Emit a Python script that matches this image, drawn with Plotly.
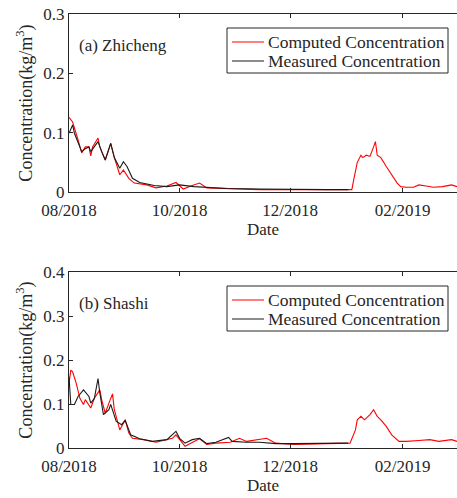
import plotly.graph_objects as go

# ---------------- data ----------------
tick_dates = ["2018-08-01", "2018-10-01", "2018-12-01", "2019-02-01"]
tick_labels = ["08/2018", "10/2018", "12/2018", "02/2019"]
series_names = ["Computed Concentration", "Measured Concentration"]
panel_titles = ["(a) Zhicheng", "(b) Shashi"]

# (a) Zhicheng
zc_comp_dates = ["2018-08-01", "2018-08-03", "2018-08-06", "2018-08-08", "2018-08-10", "2018-08-12",
                 "2018-08-13", "2018-08-14", "2018-08-17", "2018-08-18", "2018-08-21", "2018-08-24",
                 "2018-08-26", "2018-08-29", "2018-08-31", "2018-09-03", "2018-09-06", "2018-09-13",
                 "2018-09-18", "2018-09-24", "2018-09-29", "2018-10-03", "2018-10-08", "2018-10-12",
                 "2018-10-16", "2018-10-27", "2018-11-05", "2018-11-14", "2018-12-03", "2018-12-21",
                 "2019-01-04", "2019-01-05", "2019-01-07", "2019-01-09", "2019-01-10", "2019-01-12",
                 "2019-01-14", "2019-01-16", "2019-01-17", "2019-01-18", "2019-01-20", "2019-01-23",
                 "2019-01-26", "2019-01-29", "2019-01-31", "2019-02-03", "2019-02-07", "2019-02-10",
                 "2019-02-14", "2019-02-18", "2019-02-23", "2019-02-28", "2019-03-03"]
zc_comp = [0.126, 0.118, 0.088, 0.066, 0.076, 0.076,
           0.061, 0.076, 0.091, 0.076, 0.054, 0.082,
           0.058, 0.029, 0.037, 0.023, 0.015, 0.012,
           0.007, 0.010, 0.016, 0.005, 0.011, 0.015,
           0.007, 0.006, 0.004, 0.004, 0.004, 0.004,
           0.004, 0.020, 0.050, 0.062, 0.058, 0.062,
           0.060, 0.076, 0.085, 0.062, 0.058, 0.043,
           0.029, 0.015, 0.009, 0.008, 0.008, 0.012,
           0.010, 0.008, 0.009, 0.012, 0.009]

zc_meas_dates = ["2018-08-01", "2018-08-03", "2018-08-04", "2018-08-06", "2018-08-08", "2018-08-10",
                 "2018-08-12", "2018-08-13", "2018-08-15", "2018-08-17", "2018-08-19", "2018-08-21",
                 "2018-08-24", "2018-08-26", "2018-08-29", "2018-08-31", "2018-09-02", "2018-09-05",
                 "2018-09-09", "2018-09-17", "2018-09-24", "2018-10-01", "2018-10-09", "2018-10-18",
                 "2018-10-27", "2018-11-14", "2018-12-03", "2018-12-21", "2019-01-02"]
zc_meas = [0.099, 0.113, 0.099, 0.082, 0.068, 0.073,
           0.076, 0.068, 0.076, 0.085, 0.068, 0.054,
           0.082, 0.058, 0.040, 0.051, 0.043, 0.023,
           0.016, 0.011, 0.009, 0.012, 0.009, 0.007,
           0.006, 0.005, 0.004, 0.004, 0.004]

# (b) Shashi
ss_comp_dates = ["2018-08-01", "2018-08-02", "2018-08-03", "2018-08-05", "2018-08-07", "2018-08-09",
                 "2018-08-10", "2018-08-12", "2018-08-13", "2018-08-15", "2018-08-18", "2018-08-19",
                 "2018-08-21", "2018-08-23", "2018-08-25", "2018-08-26", "2018-08-29", "2018-09-01",
                 "2018-09-03", "2018-09-05", "2018-09-11", "2018-09-18", "2018-09-24", "2018-09-27",
                 "2018-09-29", "2018-10-01", "2018-10-04", "2018-10-09", "2018-10-12", "2018-10-16",
                 "2018-10-21", "2018-10-29", "2018-11-03", "2018-11-07", "2018-11-14", "2018-11-18",
                 "2018-11-23", "2018-12-03", "2018-12-21", "2019-01-03", "2019-01-06", "2019-01-07",
                 "2019-01-09", "2019-01-11", "2019-01-14", "2019-01-16", "2019-01-18", "2019-01-20",
                 "2019-01-23", "2019-01-26", "2019-01-30", "2019-02-03", "2019-02-10", "2019-02-16",
                 "2019-02-21", "2019-02-28", "2019-03-03"]
ss_comp = [0.147, 0.177, 0.173, 0.147, 0.113, 0.099,
           0.110, 0.099, 0.091, 0.113, 0.132, 0.110,
           0.079, 0.102, 0.123, 0.087, 0.041, 0.064,
           0.034, 0.022, 0.019, 0.013, 0.019, 0.022,
           0.030, 0.019, 0.004, 0.015, 0.021, 0.008,
           0.011, 0.013, 0.022, 0.015, 0.019, 0.022,
           0.011, 0.008, 0.010, 0.011, 0.041, 0.064,
           0.072, 0.064, 0.076, 0.087, 0.072, 0.064,
           0.049, 0.030, 0.015, 0.015, 0.017, 0.019,
           0.015, 0.019, 0.015]

ss_meas_dates = ["2018-08-01", "2018-08-02", "2018-08-04", "2018-08-06", "2018-08-09", "2018-08-12",
                 "2018-08-13", "2018-08-15", "2018-08-17", "2018-08-18", "2018-08-20", "2018-08-23",
                 "2018-08-24", "2018-08-27", "2018-08-30", "2018-09-01", "2018-09-04", "2018-09-09",
                 "2018-09-16", "2018-09-24", "2018-09-29", "2018-10-01", "2018-10-04", "2018-10-08",
                 "2018-10-12", "2018-10-16", "2018-10-21", "2018-10-28", "2018-10-30", "2018-11-07",
                 "2018-11-14", "2018-11-23", "2018-12-03", "2018-12-21", "2019-01-02"]
ss_meas = [0.162, 0.099, 0.099, 0.117, 0.132, 0.117,
           0.102, 0.113, 0.158, 0.125, 0.076, 0.087,
           0.099, 0.061, 0.053, 0.063, 0.030, 0.021,
           0.015, 0.019, 0.038, 0.022, 0.011, 0.019,
           0.022, 0.010, 0.013, 0.024, 0.015, 0.013,
           0.013, 0.010, 0.010, 0.010, 0.011]

# ---------------- figure ----------------
W, H = 457, 498
FONT = "Liberation Serif, Times New Roman, serif"
AX = "#262626"
RED = "#ff0000"
BLK = "#1a1a1a"
colors = [RED, BLK]

fig = go.Figure()
panels = [
    ("x", "y", [(zc_comp_dates, zc_comp), (zc_meas_dates, zc_meas)]),
    ("x2", "y2", [(ss_comp_dates, ss_comp), (ss_meas_dates, ss_meas)]),
]
for xa, ya, series in panels:
    for (d, v), name, col in zip(series, series_names, colors):
        fig.add_trace(go.Scatter(x=d, y=v, mode="lines", name=name, showlegend=False,
                                 line=dict(color=col, width=1.1), xaxis=xa, yaxis=ya))


def px_x(p):
    return p / W


def px_y(p):
    return 1 - p / H


xcommon = dict(range=["2018-08-01", "2019-03-03"], tickvals=tick_dates, ticktext=tick_labels,
               ticks="inside", ticklen=4, tickcolor=AX, showline=True, linecolor=AX, linewidth=1,
               mirror="ticks", showgrid=False, zeroline=False, ticklabelstandoff=3,
               tickfont=dict(family=FONT, size=17, color=AX),
               title=dict(text="Date", font=dict(family=FONT, size=17, color=AX), standoff=0),
               domain=[px_x(69), 1.0], automargin=False)
ycommon = dict(ticks="inside", ticklen=4, tickcolor=AX, showline=True, linecolor=AX, linewidth=1,
               mirror=False, showgrid=False, zeroline=False, dtick=0.1,
               tickfont=dict(family=FONT, size=17, color=AX),
               title=dict(text="Concentration(kg/m<sup>3</sup>)", font=dict(family=FONT, size=18, color=AX),
                          standoff=6),
               automargin=False)

# panel geometry in pixels: (plot top, plot bottom, legend top)
geom = [(14, 192, 28), (272, 448, 286)]

shapes = []
annotations = []
for (top, bottom, ltop), title in zip(geom, panel_titles):
    # legend box
    shapes.append(dict(type="rect", xref="paper", yref="paper",
                       x0=px_x(227), x1=px_x(448), y0=px_y(ltop + 45), y1=px_y(ltop),
                       line=dict(color=AX, width=1), fillcolor="white", layer="above"))
    for i, (name, col) in enumerate(zip(series_names, colors)):
        yy = ltop + 14 + 19 * i
        shapes.append(dict(type="line", xref="paper", yref="paper",
                           x0=px_x(232), x1=px_x(264), y0=px_y(yy), y1=px_y(yy),
                           line=dict(color=col, width=1), layer="above"))
        annotations.append(dict(text=name, x=px_x(266), y=px_y(yy), xref="paper", yref="paper",
                                xanchor="left", yanchor="middle", showarrow=False,
                                font=dict(family=FONT, size=17.5, color=AX)))
    annotations.append(dict(text=title, x=px_x(77), y=px_y(top + 31), xref="paper", yref="paper",
                            xanchor="left", yanchor="middle", showarrow=False,
                            font=dict(family=FONT, size=17, color=AX)))

fig.update_layout(
    width=W, height=H, autosize=False,
    margin=dict(l=0, r=0, t=0, b=0),
    paper_bgcolor="white", plot_bgcolor="white",
    font=dict(family=FONT, size=17, color=AX),
    xaxis=dict(**xcommon, anchor="y"),
    xaxis2=dict(**xcommon, anchor="y2"),
    yaxis=dict(**ycommon, range=[0, 0.3], domain=[px_y(192), px_y(14)], anchor="x"),
    yaxis2=dict(**ycommon, range=[0, 0.4], domain=[px_y(448), px_y(272)], anchor="x2"),
    shapes=shapes,
    annotations=annotations,
    showlegend=False,
)

fig.write_html("out.html", config={"displayModeBar": False},
               post_script="document.body.style.margin='0px';document.body.style.overflow='hidden';")
